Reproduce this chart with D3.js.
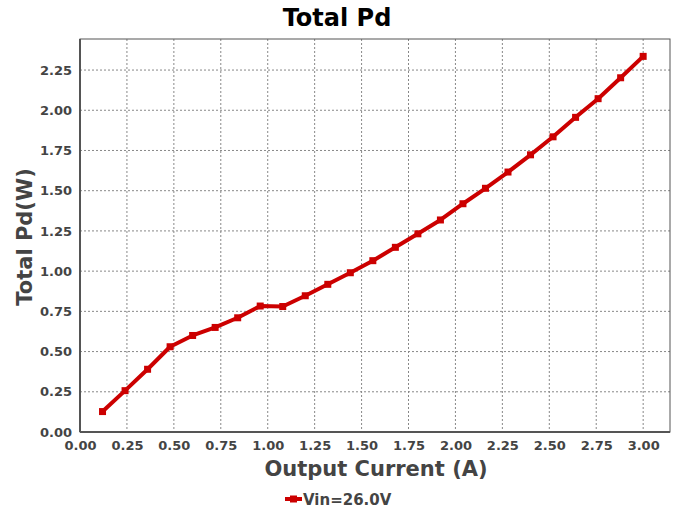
<!DOCTYPE html>
<html><head><meta charset="utf-8">
<script src="https://cdn.jsdelivr.net/npm/d3@7"></script>
<style>body{margin:0;background:#fff}svg{display:block}text{font-family:"DejaVu Sans",sans-serif;font-weight:bold}</style>
</head><body><svg id="c" width="673" height="512"></svg>
<script>
const current = [0.12,0.24,0.36,0.48,0.60,0.72,0.84,0.96,1.08,1.20,1.32,1.44,1.56,1.68,1.80,1.92,2.04,2.16,2.28,2.40,2.52,2.64,2.76,2.88,3.00];
const totalPd = [0.127,0.257,0.39,0.53,0.60,0.65,0.71,0.783,0.78,0.847,0.918,0.99,1.065,1.148,1.232,1.318,1.419,1.515,1.616,1.723,1.835,1.956,2.072,2.202,2.335];
const xTicks = [0,0.25,0.5,0.75,1.0,1.25,1.5,1.75,2.0,2.25,2.5,2.75,3.0];
const yTicks = [0,0.25,0.5,0.75,1.0,1.25,1.5,1.75,2.0,2.25];
const seriesName = "Vin=26.0V";
const title = "Total Pd", xLabel = "Output Current (A)", yLabel = "Total Pd(W)";

const svg = d3.select("#c");
const L=80,T=39,R=670,B=432;
const x = d3.scaleLinear().domain([0,3.143]).range([L,R]);
const y = d3.scaleLinear().domain([0,2.443]).range([B,T]);
const red="#cc0000", tc="#444";

// grid
svg.append("g").selectAll("line").data(xTicks.filter(d=>d>0)).join("line")
 .attr("x1",d=>x(d)).attr("x2",d=>x(d)).attr("y1",T).attr("y2",B)
 .attr("stroke","#888").attr("stroke-width",1).attr("stroke-dasharray","2,2");
svg.append("g").selectAll("line").data(yTicks.filter(d=>d>0)).join("line")
 .attr("y1",d=>y(d)).attr("y2",d=>y(d)).attr("x1",L).attr("x2",R)
 .attr("stroke","#888").attr("stroke-width",1).attr("stroke-dasharray","2,2");

// frame
svg.append("rect").attr("x",L).attr("y",T).attr("width",R-L).attr("height",B-T)
 .attr("fill","none").attr("stroke","#555").attr("stroke-width",1);
svg.append("line").attr("x1",L).attr("x2",L).attr("y1",T).attr("y2",B).attr("stroke","#555").attr("stroke-width",2);
svg.append("line").attr("x1",L).attr("x2",R).attr("y1",B).attr("y2",B).attr("stroke","#555").attr("stroke-width",2);

// axes (labels only)
const xa = svg.append("g").attr("transform",`translate(0,${B})`)
 .call(d3.axisBottom(x).tickValues(xTicks).tickFormat(d3.format(".2f")).tickSize(0).tickPadding(9));
const ya = svg.append("g").attr("transform",`translate(${L},0)`)
 .call(d3.axisLeft(y).tickValues(yTicks).tickFormat(d3.format(".2f")).tickSize(0).tickPadding(8));
[xa,ya].forEach(a=>{a.select(".domain").remove();a.selectAll("text").attr("fill",tc).style("font-size","13px").style("font-family","DejaVu Sans").style("font-weight","bold");});

// line
const pts = current.map((c,i)=>[c,totalPd[i]]);
svg.append("path").datum(pts).attr("fill","none").attr("stroke",red).attr("stroke-width",4)
 .attr("stroke-linejoin","round").attr("d",d3.line().x(d=>x(d[0])).y(d=>y(d[1])));
svg.append("g").selectAll("rect").data(pts).join("rect")
 .attr("x",d=>x(d[0])-3.5).attr("y",d=>y(d[1])-3.5).attr("width",7).attr("height",7).attr("fill",red);

// titles
svg.append("text").attr("x",337).attr("y",26).attr("text-anchor","middle").attr("fill","#000").style("font-size","24px").text(title);
svg.append("text").attr("x",376).attr("y",476).attr("text-anchor","middle").attr("fill",tc).style("font-size","21px").text(xLabel);
svg.append("text").attr("transform","translate(32,237) rotate(-90)").attr("text-anchor","middle").attr("fill",tc).style("font-size","21px").text(yLabel);

// legend
const lg = svg.append("g").attr("transform","translate(285,499)");
lg.append("line").attr("x1",0).attr("x2",17).attr("y1",0).attr("y2",0).attr("stroke",red).attr("stroke-width",4);
lg.append("rect").attr("x",5).attr("y",-3.5).attr("width",7).attr("height",7).attr("fill",red);
lg.append("text").attr("x",18).attr("y",5.5).attr("fill",tc).style("font-size","15px").text(seriesName);
</script></body></html>
